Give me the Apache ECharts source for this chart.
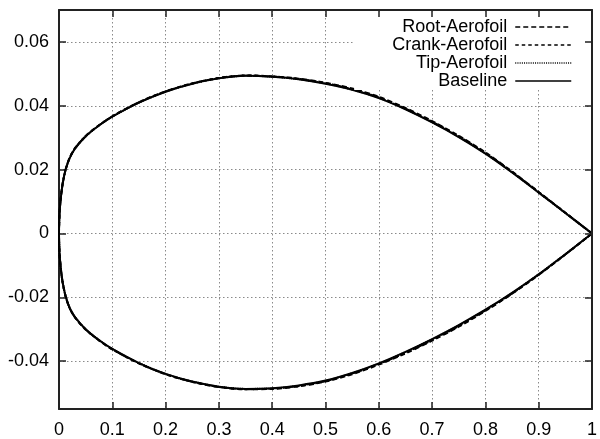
<!DOCTYPE html>
<html>
<head>
<meta charset="utf-8">
<script src="https://cdn.jsdelivr.net/npm/echarts@6/dist/echarts.min.js"></script>
<style>
html,body{margin:0;padding:0;background:#fff;}
#chart{width:600px;height:439px;}
</style>
</head>
<body>
<div id="chart"></div>
<script>
// chord stations, trailing edge -> leading edge
const xStations = [1, 0.95, 0.9, 0.85, 0.8, 0.75, 0.7, 0.65, 0.6, 0.55, 0.5, 0.45, 0.4, 0.35, 0.3, 0.25, 0.2, 0.15, 0.1, 0.075, 0.05, 0.03, 0.02, 0.0125, 0.0075, 0.005, 0.0025, 0.001, 0];

const rootUpper  = [0, 0.0065, 0.0130, 0.0194, 0.0254, 0.0306, 0.0352, 0.0393, 0.0428, 0.0454, 0.0472, 0.0485, 0.0492, 0.0495, 0.0487, 0.0470, 0.0445, 0.0411, 0.0367, 0.0339, 0.0305, 0.0267, 0.0237, 0.0201, 0.0163, 0.0135, 0.0097, 0.0062, 0];
const rootLower  = [0, -0.0066, -0.0130, -0.0189, -0.0243, -0.0292, -0.0336, -0.0376, -0.0411, -0.0441, -0.0464, -0.0479, -0.0487, -0.0488, -0.0481, -0.0465, -0.0441, -0.0407, -0.0363, -0.0335, -0.0301, -0.0263, -0.0234, -0.0198, -0.0160, -0.0133, -0.0095, -0.0061, 0];

const crankUpper = [0, 0.0065, 0.0129, 0.0193, 0.0252, 0.0304, 0.0350, 0.0391, 0.0426, 0.0452, 0.0471, 0.0484, 0.0492, 0.0495, 0.0487, 0.0470, 0.0445, 0.0411, 0.0367, 0.0339, 0.0305, 0.0267, 0.0237, 0.0200, 0.0162, 0.0134, 0.0096, 0.0061, 0];
const crankLower = [0, -0.0066, -0.0129, -0.0188, -0.0241, -0.0290, -0.0334, -0.0374, -0.0409, -0.0439, -0.0463, -0.0478, -0.0486, -0.0488, -0.0481, -0.0465, -0.0441, -0.0407, -0.0363, -0.0335, -0.0301, -0.0263, -0.0234, -0.0198, -0.0160, -0.0133, -0.0095, -0.0061, 0];

const tipUpper   = [0, 0.0064, 0.0128, 0.0192, 0.0251, 0.0303, 0.0349, 0.0390, 0.0425, 0.0451, 0.0470, 0.0483, 0.0491, 0.0494, 0.0486, 0.0469, 0.0444, 0.0410, 0.0366, 0.0338, 0.0304, 0.0266, 0.0236, 0.0200, 0.0162, 0.0134, 0.0096, 0.0061, 0];
const tipLower   = [0, -0.0065, -0.0128, -0.0187, -0.0240, -0.0288, -0.0332, -0.0372, -0.0408, -0.0438, -0.0462, -0.0477, -0.0486, -0.0487, -0.0480, -0.0464, -0.0440, -0.0406, -0.0362, -0.0334, -0.0300, -0.0262, -0.0233, -0.0197, -0.0159, -0.0132, -0.0094, -0.0060, 0];

const baseUpper  = [0, 0.0064, 0.0128, 0.0191, 0.0250, 0.0302, 0.0348, 0.0389, 0.0424, 0.0450, 0.0469, 0.0483, 0.0491, 0.0494, 0.0486, 0.0469, 0.0444, 0.0410, 0.0366, 0.0338, 0.0304, 0.0266, 0.0236, 0.0200, 0.0162, 0.0134, 0.0096, 0.0061, 0];
const baseLower  = [0, -0.0065, -0.0128, -0.0186, -0.0239, -0.0287, -0.0331, -0.0371, -0.0407, -0.0437, -0.0461, -0.0476, -0.0485, -0.0487, -0.0480, -0.0464, -0.0440, -0.0406, -0.0362, -0.0334, -0.0300, -0.0262, -0.0233, -0.0197, -0.0159, -0.0132, -0.0094, -0.0060, 0];

const seriesNames = ['Root-Aerofoil', 'Crank-Aerofoil', 'Tip-Aerofoil', 'Baseline'];
const xTicks = [0, 0.1, 0.2, 0.3, 0.4, 0.5, 0.6, 0.7, 0.8, 0.9, 1];
const yTicks = [-0.04, -0.02, 0, 0.02, 0.04, 0.06];

function loop(upper, lower) {
  const pts = xStations.map((x, i) => [x, upper[i]]);
  for (let i = xStations.length - 2; i >= 0; i--) pts.push([xStations[i], lower[i]]);
  return pts;
}

const FONT = "'Liberation Sans', Arial, sans-serif";
const dashes = [[5, 3], [3.5, 3], [1, 1.2], 'solid'];
const shapes = [[rootUpper, rootLower], [crankUpper, crankLower], [tipUpper, tipLower], [baseUpper, baseLower]];

const chart = echarts.init(document.getElementById('chart'), null, {renderer: 'canvas'});
const gridLine = {show: true, lineStyle: {color: '#8a8a8a', width: 1, type: [1.5, 2.5]}};

function fmt(list) {
  return v => { const t = list.find(k => Math.abs(k - v) < 1e-9); return t === undefined ? '' : String(t); };
}

chart.setOption({
  animation: false,
  backgroundColor: '#fff',
  grid: {left: 59, right: 8, top: 10, bottom: 30, containLabel: false},
  legend: {
    data: seriesNames,
    orient: 'vertical',
    right: 10, top: 12,
    align: 'right',
    itemWidth: 56, itemHeight: 14, itemGap: 0,
    padding: [6, 18, 0, 38],
    backgroundColor: '#fff',
    selectedMode: false,
    itemStyle: {opacity: 0},
    lineStyle: {width: 1.5},
    textStyle: {fontFamily: FONT, fontSize: 18, color: '#000', lineHeight: 18, padding: [0, 3, 0, 0]}
  },
  xAxis: [{
    type: 'value', min: 0, max: 1, interval: 0.1, position: 'bottom',
    axisLine: {show: true, onZero: false, lineStyle: {color: '#222', width: 2}},
    axisTick: {show: true, inside: true, length: 7, lineStyle: {color: '#222', width: 1.5}},
    axisLabel: {fontFamily: FONT, fontSize: 18, color: '#000', margin: 12, formatter: fmt(xTicks)},
    splitLine: gridLine
  }, {
    type: 'value', min: 0, max: 1, interval: 0.1, position: 'top', z: 10,
    axisLine: {show: true, onZero: false, lineStyle: {color: '#222', width: 2}},
    axisTick: {show: true, inside: true, length: 7, lineStyle: {color: '#222', width: 1.5}},
    axisLabel: {show: false}, splitLine: {show: false}
  }],
  yAxis: [{
    type: 'value', min: -0.055, max: 0.07, splitNumber: 6, position: 'left',
    axisLine: {show: true, onZero: false, lineStyle: {color: '#222', width: 2}},
    axisTick: {show: true, inside: true, length: 7, lineStyle: {color: '#222', width: 1.5}},
    axisLabel: {fontFamily: FONT, fontSize: 18, color: '#000', margin: 10, showMinLabel: false, showMaxLabel: false, formatter: fmt(yTicks)},
    splitLine: gridLine
  }, {
    type: 'value', min: -0.055, max: 0.07, splitNumber: 6, position: 'right', z: 10,
    axisLine: {show: true, onZero: false, lineStyle: {color: '#222', width: 2}},
    axisTick: {show: true, inside: true, length: 7, lineStyle: {color: '#222', width: 1.5}},
    axisLabel: {show: false}, splitLine: {show: false}
  }],
  series: seriesNames.map((name, i) => ({
    name: name, type: 'line', xAxisIndex: 0, yAxisIndex: 0,
    data: loop(shapes[i][0], shapes[i][1]),
    showSymbol: false, symbol: 'none', smooth: 0.3,
    lineStyle: {color: '#000', width: 2, type: dashes[i]},
    itemStyle: {color: '#000'}
  }))
});
</script>
</body>
</html>
